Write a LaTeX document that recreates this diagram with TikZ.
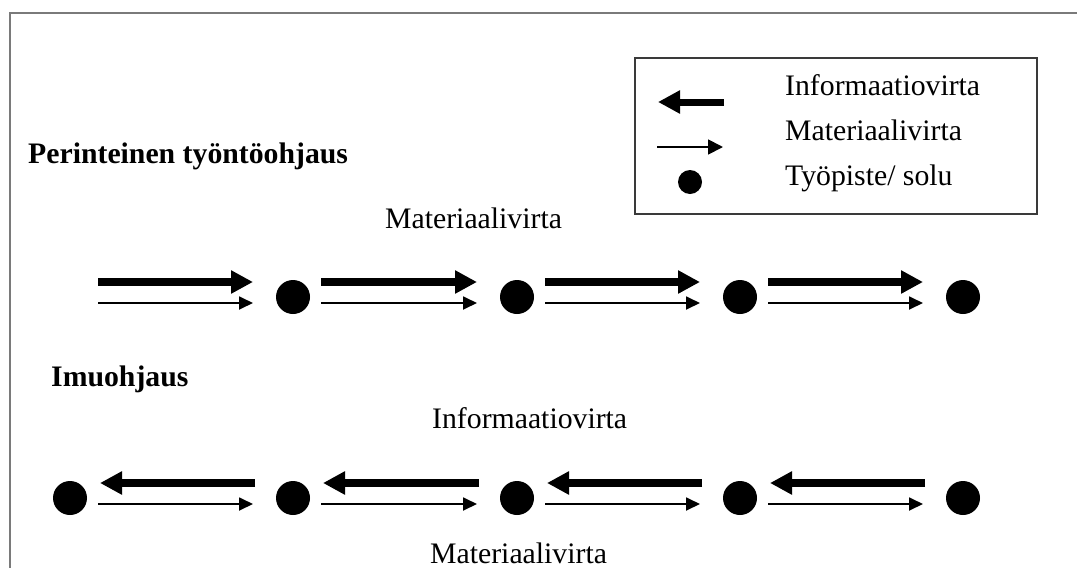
\documentclass[tikz,border=0pt]{standalone}
\usepackage{fontspec}
\setmainfont{Liberation Serif}
\usetikzlibrary{arrows.meta}
\definecolor{framegray}{HTML}{7A7A7A}
\definecolor{boxgray}{HTML}{3A3A3A}
\tikzset{
  infoflow/.style={line width=7.5pt,-{Triangle[length=22pt,width=22pt]}},
  matflow/.style={line width=1.8pt,-{Triangle[length=14pt,width=13pt]}},
  legendinfo/.style={line width=7pt,-{Triangle[length=22pt,width=22pt]}},
  legendmat/.style={line width=1.8pt,-{Triangle[length=15pt,width=15pt]}},
  station/.style={circle,fill=black,inner sep=0pt,minimum size=34pt},
  legenddot/.style={circle,fill=black,inner sep=0pt,minimum size=24pt},
  lbl/.style={anchor=base west,inner sep=0pt,font=\fontsize{29.75pt}{34pt}\selectfont},
  head/.style={lbl,font=\fontsize{29.75pt}{34pt}\selectfont\bfseries},
}
\begin{document}
\begin{tikzpicture}[x=1pt,y=-1pt]
\useasboundingbox (0,0) rectangle (1077,568);
% outer frame (cut off at right and bottom)
\draw[framegray,line width=2.5pt] (1077,13) -- (10,13) -- (10,568);
% legend
\node[draw=boxgray,line width=2pt,anchor=north west,inner sep=0pt,minimum width=402pt,minimum height=156pt] (legend) at (634,57) {};
\coordinate (li1) at (724,102);
\coordinate (li2) at (658,102);
\draw[legendinfo] (li1) -- (li2);
\coordinate (lm1) at (657,147);
\coordinate (lm2) at (723,147);
\draw[legendmat] (lm1) -- (lm2);
\node[legenddot] (ld) at (690,182) {};
\node[lbl] (lt1) at (785,95) {Informaatiovirta};
\node[lbl] (lt2) at (785,140) {Materiaalivirta};
\node[lbl] (lt3) at (785,185) {Työpiste/ solu};
% headings and labels
\node[head] (h1) at (28,163) {Perinteinen työntöohjaus};
\node[lbl] (m1) at (385,228) {Materiaalivirta};
\node[head] (h2) at (51,386) {Imuohjaus};
\node[lbl] (i2) at (432,428) {Informaatiovirta};
\node[lbl] (m2) at (430,563) {Materiaalivirta};
% top row: push
\coordinate (t0) at (70,297);
\node[station] (t1) at (293,297) {};
\node[station] (t2) at (517,297) {};
\node[station] (t3) at (740,297) {};
\node[station] (t4) at (963,297) {};
\foreach \a/\b in {t0/t1,t1/t2,t2/t3,t3/t4}{
  \draw[infoflow] ([xshift=28pt,yshift=15pt]\a.center) -- ([xshift=-40pt,yshift=15pt]\b.center);
  \draw[matflow] ([xshift=28pt,yshift=-6pt]\a.center) -- ([xshift=-40pt,yshift=-6pt]\b.center);
}
% bottom row: pull
\node[station] (b0) at (70,498) {};
\node[station] (b1) at (293,498) {};
\node[station] (b2) at (517,498) {};
\node[station] (b3) at (740,498) {};
\node[station] (b4) at (963,498) {};
\foreach \a/\b in {b0/b1,b1/b2,b2/b3,b3/b4}{
  \draw[infoflow] ([xshift=-38pt,yshift=15pt]\b.center) -- ([xshift=30pt,yshift=15pt]\a.center);
  \draw[matflow] ([xshift=28pt,yshift=-6pt]\a.center) -- ([xshift=-40pt,yshift=-6pt]\b.center);
}
\end{tikzpicture}
\end{document}
